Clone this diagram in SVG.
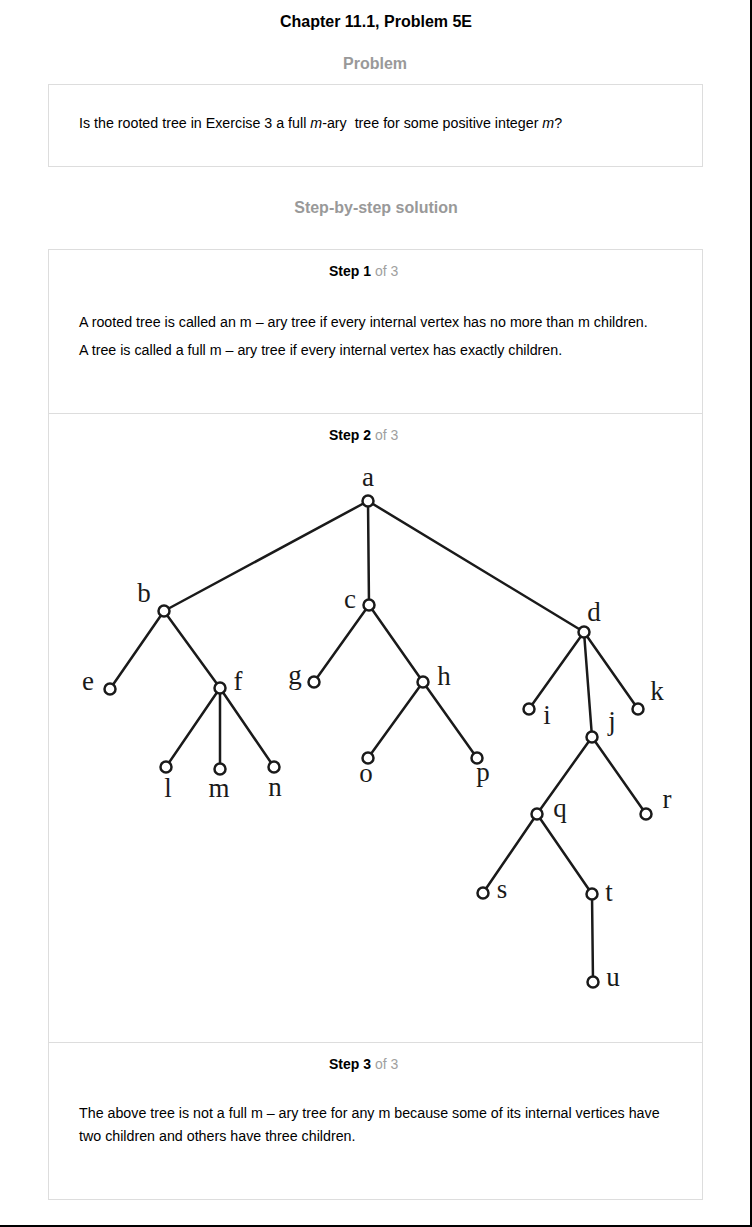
<svg xmlns="http://www.w3.org/2000/svg" width="752" height="1227" viewBox="0 0 752 1227">
<style>
  .head { font-family: "Liberation Sans", Arial, sans-serif; font-size: 16px; font-weight: bold; text-anchor: middle; }
  .gray { fill: #999999; }
  .body { font-family: "Liberation Sans", Arial, sans-serif; font-size: 14.25px; fill: #000; }
  .step { font-family: "Liberation Sans", Arial, sans-serif; font-size: 14px; }
  .stepb { font-weight: bold; fill: #000; }
  .stepg { fill: #a0a0a0; }
  .box { fill: #fff; stroke: #dddddd; stroke-width: 1; }
  .edge { stroke: #1a1a1a; stroke-width: 2.5; fill: none; stroke-linecap: round; }
  .vtx { fill: #fff; stroke: #1a1a1a; stroke-width: 2.5; }
  .lbl { font-family: "Liberation Serif", "Times New Roman", serif; font-size: 27px; fill: #1a1a1a; text-anchor: middle; }
</style>
<rect x="0" y="0" width="752" height="1227" fill="#fff"/>
<path d="M0,1226 H751 V0" fill="none" stroke="#000" stroke-width="2"/>

<text class="head" x="376" y="27">Chapter 11.1, Problem 5E</text>
<text class="head gray" x="375" y="69">Problem</text>

<g id="problem-box">
  <rect class="box" x="48.5" y="84.5" width="654" height="82"/>
  <text class="body" x="79" y="128" xml:space="preserve">Is the rooted tree in Exercise 3 a full <tspan font-style="italic">m</tspan>-ary  tree for some positive integer <tspan font-style="italic">m</tspan>?</text>
</g>

<text class="head gray" x="376" y="213">Step-by-step solution</text>

<g id="steps-box">
  <rect class="box" x="48.5" y="249.5" width="654" height="950"/>
  <line x1="48.5" y1="413.5" x2="702.5" y2="413.5" stroke="#dddddd" stroke-width="1"/>
  <line x1="48.5" y1="1042.5" x2="702.5" y2="1042.5" stroke="#dddddd" stroke-width="1"/>
</g>

<g id="step1">
  <text class="step" x="329" y="276"><tspan class="stepb">Step 1</tspan><tspan class="stepg"> of 3</tspan></text>
  <text class="body" x="79" y="327">A rooted tree is called an m – ary tree if every internal vertex has no more than m children.</text>
  <text class="body" x="79" y="355">A tree is called a full m – ary tree if every internal vertex has exactly children.</text>
</g>

<g id="step2">
  <text class="step" x="329" y="440"><tspan class="stepb">Step 2</tspan><tspan class="stepg"> of 3</tspan></text>
</g>

<g id="step3">
  <text class="step" x="329" y="1069"><tspan class="stepb">Step 3</tspan><tspan class="stepg"> of 3</tspan></text>
  <text class="body" x="79" y="1118">The above tree is not a full m – ary tree for any m because some of its internal vertices have</text>
  <text class="body" x="79" y="1141">two children and others have three children.</text>
</g>

<g id="connectors">
  <line class="edge" x1="368" y1="501" x2="164" y2="611"/>
  <line class="edge" x1="368" y1="501" x2="369" y2="605"/>
  <line class="edge" x1="368" y1="501" x2="584" y2="632"/>
  <line class="edge" x1="164" y1="611" x2="110" y2="689"/>
  <line class="edge" x1="164" y1="611" x2="220" y2="688"/>
  <line class="edge" x1="369" y1="605" x2="314" y2="682"/>
  <line class="edge" x1="369" y1="605" x2="423" y2="682"/>
  <line class="edge" x1="584" y1="632" x2="529" y2="709"/>
  <line class="edge" x1="584" y1="632" x2="592" y2="737"/>
  <line class="edge" x1="584" y1="632" x2="638" y2="709"/>
  <line class="edge" x1="220" y1="688" x2="166" y2="767"/>
  <line class="edge" x1="220" y1="688" x2="220" y2="769"/>
  <line class="edge" x1="220" y1="688" x2="274" y2="767"/>
  <line class="edge" x1="423" y1="682" x2="368" y2="758"/>
  <line class="edge" x1="423" y1="682" x2="477" y2="758"/>
  <line class="edge" x1="592" y1="737" x2="537" y2="814"/>
  <line class="edge" x1="592" y1="737" x2="646" y2="814"/>
  <line class="edge" x1="537" y1="814" x2="483" y2="893"/>
  <line class="edge" x1="537" y1="814" x2="592" y2="894"/>
  <line class="edge" x1="592" y1="894" x2="593" y2="982"/>
</g>

<g id="node-a"><circle class="vtx" cx="368" cy="501" r="5.5"/><text class="lbl" x="368" y="486">a</text></g>
<g id="node-b"><circle class="vtx" cx="164" cy="611" r="5.5"/><text class="lbl" x="144" y="602">b</text></g>
<g id="node-c"><circle class="vtx" cx="369" cy="605" r="5.5"/><text class="lbl" x="350" y="608">c</text></g>
<g id="node-d"><circle class="vtx" cx="584" cy="632" r="5.5"/><text class="lbl" x="594" y="621">d</text></g>
<g id="node-e"><circle class="vtx" cx="110" cy="689" r="5.5"/><text class="lbl" x="88" y="690">e</text></g>
<g id="node-f"><circle class="vtx" cx="220" cy="688" r="5.5"/><text class="lbl" x="238" y="690">f</text></g>
<g id="node-g"><circle class="vtx" cx="314" cy="682" r="5.5"/><text class="lbl" x="295" y="684">g</text></g>
<g id="node-h"><circle class="vtx" cx="423" cy="682" r="5.5"/><text class="lbl" x="444" y="685">h</text></g>
<g id="node-i"><circle class="vtx" cx="529" cy="709" r="5.5"/><text class="lbl" x="547" y="724">i</text></g>
<g id="node-j"><circle class="vtx" cx="592" cy="737" r="5.5"/><text class="lbl" x="612" y="730">j</text></g>
<g id="node-k"><circle class="vtx" cx="638" cy="709" r="5.5"/><text class="lbl" x="657" y="700">k</text></g>
<g id="node-l"><circle class="vtx" cx="166" cy="767" r="5.5"/><text class="lbl" x="168" y="797">l</text></g>
<g id="node-m"><circle class="vtx" cx="220" cy="769" r="5.5"/><text class="lbl" x="219" y="797">m</text></g>
<g id="node-n"><circle class="vtx" cx="274" cy="767" r="5.5"/><text class="lbl" x="275" y="796">n</text></g>
<g id="node-o"><circle class="vtx" cx="368" cy="758" r="5.5"/><text class="lbl" x="366" y="782">o</text></g>
<g id="node-p"><circle class="vtx" cx="477" cy="758" r="5.5"/><text class="lbl" x="483" y="781">p</text></g>
<g id="node-q"><circle class="vtx" cx="537" cy="814" r="5.5"/><text class="lbl" x="560" y="817">q</text></g>
<g id="node-r"><circle class="vtx" cx="646" cy="814" r="5.5"/><text class="lbl" x="667" y="808">r</text></g>
<g id="node-s"><circle class="vtx" cx="483" cy="893" r="5.5"/><text class="lbl" x="502" y="898">s</text></g>
<g id="node-t"><circle class="vtx" cx="592" cy="894" r="5.5"/><text class="lbl" x="609" y="901">t</text></g>
<g id="node-u"><circle class="vtx" cx="593" cy="982" r="5.5"/><text class="lbl" x="613" y="986">u</text></g>
</svg>
